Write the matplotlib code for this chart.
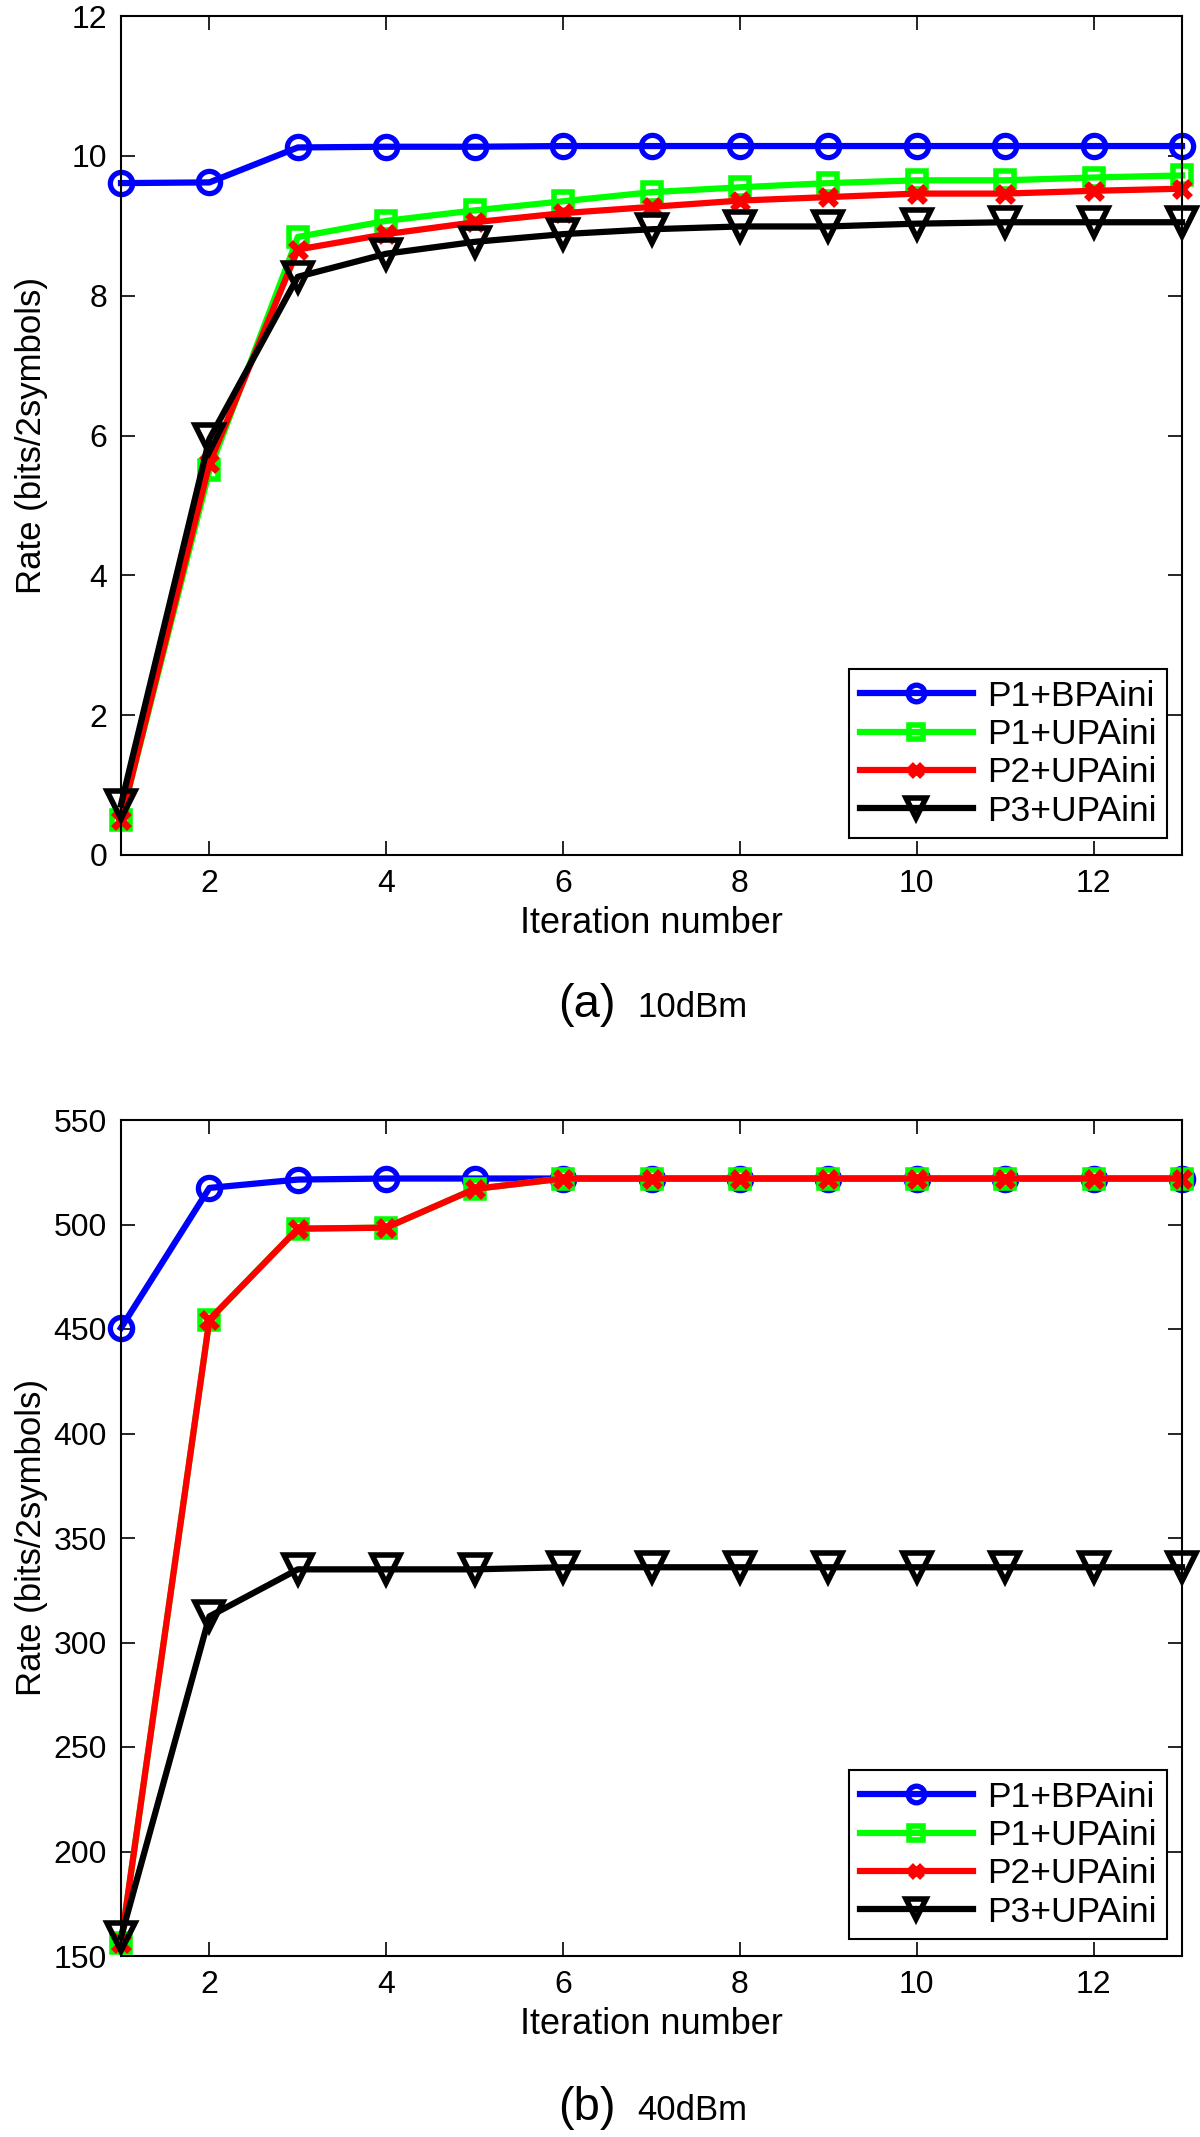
import matplotlib
matplotlib.use("Agg")
import matplotlib.pyplot as plt

plt.rcParams['font.family'] = ['Liberation Sans', 'DejaVu Sans']

# iteration axis
iters = list(range(1, 14))
labels = ['P1+BPAini', 'P1+UPAini', 'P2+UPAini', 'P3+UPAini']

# (a) 10dBm
p1_bpa_10 = [9.61, 9.62, 10.12, 10.13, 10.13, 10.14, 10.14, 10.14, 10.14, 10.14, 10.14, 10.14, 10.14]
p1_upa_10 = [0.50, 5.50, 8.84, 9.07, 9.22, 9.35, 9.48, 9.55, 9.61, 9.65, 9.65, 9.69, 9.72]
p2_upa_10 = [0.50, 5.60, 8.66, 8.88, 9.05, 9.18, 9.27, 9.36, 9.41, 9.46, 9.46, 9.50, 9.53]
p3_upa_10 = [0.72, 5.95, 8.27, 8.60, 8.77, 8.88, 8.95, 8.99, 8.99, 9.03, 9.05, 9.05, 9.05]

# (b) 40dBm
p1_bpa_40 = [450.5, 517.5, 521.5, 522.0, 522.0, 522.0, 522.0, 522.0, 522.0, 522.0, 522.0, 522.0, 522.0]
p1_upa_40 = [156.0, 454.5, 498.0, 498.5, 517.0, 522.0, 522.0, 522.0, 522.0, 522.0, 522.0, 522.0, 522.0]
p2_upa_40 = [156.0, 454.5, 498.0, 498.5, 517.0, 522.0, 522.0, 522.0, 522.0, 522.0, 522.0, 522.0, 522.0]
p3_upa_40 = [159.0, 312.5, 335.0, 335.0, 335.0, 336.0, 336.0, 336.0, 336.0, 336.0, 336.0, 336.0, 336.0]

styles = [
    dict(color=(0, 0, 1), marker='o', ms=16, mew=3.8, mfc='none'),
    dict(color=(0, 1, 0), marker='s', ms=13, mew=4, mfc='none'),
    dict(color=(1, 0, 0), marker='x', ms=11, mew=5),
    dict(color='black', marker='v', ms=20, mew=4, mfc='none'),
]

W, H = 1200, 2137
fig = plt.figure(figsize=(W / 100, H / 100), dpi=100)


def panel(top, bottom, series, ylim, yticks, tag, power, cap_y):
    ax = fig.add_axes([121 / W, 1 - bottom / H, (1182 - 121) / W, (bottom - top) / H])
    for ys, lab, st in zip(series, labels, styles):
        ax.plot(iters, ys, lw=4.5, label=lab, clip_on=False, **st)
    ax.set_xlim(1, 13)
    ax.set_ylim(*ylim)
    ax.set_xticks([2, 4, 6, 8, 10, 12])
    ax.set_yticks(yticks)
    ax.tick_params(direction='in', length=10, width=1.2, top=True, right=True,
                   labelsize=23, pad=10)
    for s in ax.spines.values():
        s.set_linewidth(1.5)
    ax.set_xlabel('Iteration number', fontsize=26)
    ax.xaxis.set_label_coords(0.5, -0.061)
    ax.xaxis.label.set_va('top')
    ax.set_ylabel('Rate (bits/2symbols)', fontsize=25)
    ax.yaxis.set_label_coords(-0.069, 0.5)
    leg = ax.legend(loc='lower right', bbox_to_anchor=(0.986, 0.02), borderaxespad=0,
                    fontsize=25.5, fancybox=False, edgecolor='black', framealpha=1,
                    handlelength=3.2, handletextpad=0.4, labelspacing=0.15,
                    borderpad=0.3, markerscale=0.75)
    leg.get_frame().set_linewidth(1.5)
    fig.text(587 / W, 1 - cap_y / H, tag, ha='center', va='baseline', fontsize=34)
    fig.text(637 / W, 1 - cap_y / H, power, ha='left', va='baseline', fontsize=25)
    return ax


panel(16, 855, [p1_bpa_10, p1_upa_10, p2_upa_10, p3_upa_10], (0, 12),
      [0, 2, 4, 6, 8, 10, 12], '(a)', '10dBm', 1017)
panel(1120, 1956, [p1_bpa_40, p1_upa_40, p2_upa_40, p3_upa_40], (150, 550),
      [150, 200, 250, 300, 350, 400, 450, 500, 550], '(b)', '40dBm', 2120)

fig.savefig('out.png', dpi=100)
